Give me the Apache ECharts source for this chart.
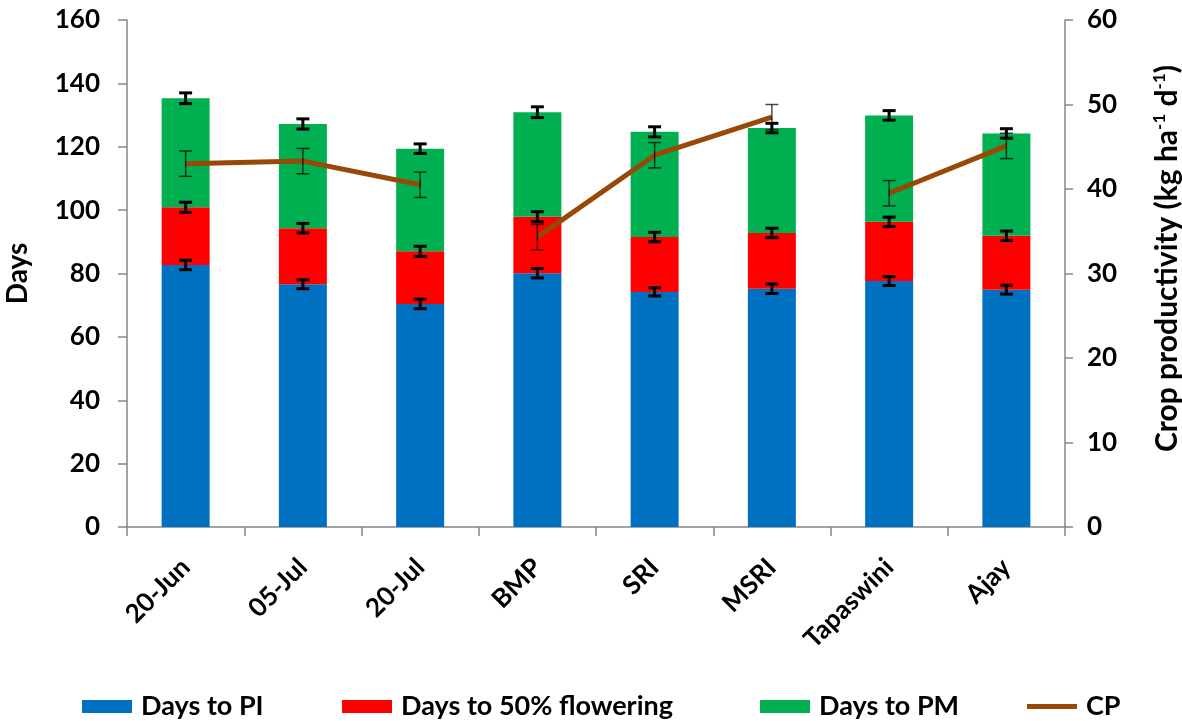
<!DOCTYPE html>
<html>
<head>
<meta charset="utf-8">
<script src="https://cdn.jsdelivr.net/npm/echarts@6/dist/echarts.min.js"></script>
<style>
  html, body { margin: 0; padding: 0; background: #fff; }
  #chart { width: 1182px; height: 721px; }
</style>
</head>
<body>
<div id="chart"></div>
<script>
// Sowing dates, establishment methods and varieties
const categories = ['20-Jun', '05-Jul', '20-Jul', 'BMP', 'SRI', 'MSRI', 'Tapaswini', 'Ajay'];
// treatment group of each category (the CP line is drawn separately per group)
const groups = ['date', 'date', 'date', 'method', 'method', 'method', 'variety', 'variety'];

// Days after sowing to each crop stage (cumulative)
const daysToPI = [82.7, 76.6, 70.4, 80.1, 74.2, 75.2, 77.6, 74.9];
const daysToFlowering = [100.9, 94.3, 87.0, 97.9, 91.5, 92.8, 96.3, 91.9];
const daysToPM = [135.3, 127.2, 119.4, 130.9, 124.7, 125.9, 129.9, 124.2];

// Standard errors of the stage dates
const errPI = [1.5, 1.4, 1.5, 1.5, 1.3, 1.5, 1.4, 1.4];
const errFlowering = [1.6, 1.5, 1.6, 1.6, 1.5, 1.5, 1.5, 1.5];
const errPM = [1.7, 1.6, 1.5, 1.7, 1.6, 1.5, 1.5, 1.5];

// Crop productivity, kg ha-1 d-1
const cropProductivity = [43.0, 43.3, 40.5, 34.3, 44.0, 48.5, 39.5, 45.1];
const errCP = [1.5, 1.5, 1.5, 1.5, 1.5, 1.5, 1.5, 1.5];

const leftTicks = { min: 0, max: 160, interval: 20 };
const rightTicks = { min: 0, max: 60, interval: 10 };

// stacked segment heights
const segPI = daysToPI.slice();
const segFlowering = daysToFlowering.map((v, i) => +(v - daysToPI[i]).toFixed(2));
const segPM = daysToPM.map((v, i) => +(v - daysToFlowering[i]).toFixed(2));

const errData = [];
[[daysToPI, errPI], [daysToFlowering, errFlowering], [daysToPM, errPM]].forEach(([vals, errs]) => {
  vals.forEach((v, i) => errData.push([i, v - errs[i], v + errs[i]]));
});
const cpErrData = cropProductivity.map((v, i) => [i, v - errCP[i], v + errCP[i]]);

const FONT = 'Lato, "Open Sans", sans-serif';
const axisGray = '#868686';
const CP_COLOR = '#984807';

function errorBar(capHalf, width, color) {
  return function (params, api) {
    const x = api.value(0);
    const lo = api.coord([x, api.value(1)]);
    const hi = api.coord([x, api.value(2)]);
    const style = { stroke: color, lineWidth: width, fill: null };
    return {
      type: 'group',
      children: [
        { type: 'line', shape: { x1: lo[0], y1: lo[1], x2: hi[0], y2: hi[1] }, style },
        { type: 'line', shape: { x1: lo[0] - capHalf, y1: lo[1], x2: lo[0] + capHalf, y2: lo[1] }, style },
        { type: 'line', shape: { x1: hi[0] - capHalf, y1: hi[1], x2: hi[0] + capHalf, y2: hi[1] }, style }
      ]
    };
  };
}

// one CP line per treatment group, broken between groups
const cpSeries = [...new Set(groups)].map(g => ({
  name: 'CP', type: 'line', yAxisIndex: 1, z: 6,
  symbol: 'none',
  connectNulls: false,
  lineStyle: { color: CP_COLOR, width: 5 },
  itemStyle: { color: CP_COLOR },
  data: cropProductivity.map((v, i) => (groups[i] === g ? v : null))
}));

const legendText = { fontFamily: FONT, fontSize: 27, fontWeight: 'bold', color: '#000', padding: [0, 0, 0, 4] };
function legendAt(left, item) {
  return {
    left, top: 688, itemWidth: 50, itemHeight: 13,
    textStyle: legendText, data: [item]
  };
}

const chart = echarts.init(document.getElementById('chart'), null, { renderer: 'canvas' });
chart.setOption({
  animation: false,
  backgroundColor: '#fff',
  textStyle: { fontFamily: FONT },
  grid: { left: 127, right: 117, top: 20, bottom: 194, containLabel: false, outerBoundsMode: 'none' },
  legend: [
    legendAt(77, { name: 'Days to PI', icon: 'rect' }),
    legendAt(337, { name: 'Days to 50% flowering', icon: 'rect' }),
    legendAt(755, { name: 'Days to PM', icon: 'rect' }),
    legendAt(1022, { name: 'CP', icon: 'path://M0,0 M0,13 M0,4 L50,4 L50,9 L0,9 Z' })
  ],
  xAxis: {
    type: 'category',
    data: categories,
    axisLine: { lineStyle: { color: axisGray, width: 1.5 } },
    axisTick: { show: true, length: 9, lineStyle: { color: axisGray, width: 1.5 } },
    axisLabel: {
      rotate: 45,
      margin: 36,
      interval: 0,
      color: '#000',
      fontFamily: FONT,
      fontSize: 26,
      fontWeight: 'bold'
    }
  },
  yAxis: [
    {
      type: 'value',
      min: leftTicks.min, max: leftTicks.max, interval: leftTicks.interval,
      name: 'Days',
      nameLocation: 'middle',
      nameGap: 95,
      nameRotate: 90,
      nameTextStyle: { fontFamily: FONT, fontSize: 28, fontWeight: 'bold', color: '#000' },
      axisLine: { show: true, lineStyle: { color: axisGray, width: 1.5 } },
      axisTick: { show: true, length: 9, lineStyle: { color: axisGray, width: 1.5 } },
      splitLine: { show: false },
      axisLabel: { margin: 27, color: '#000', fontFamily: FONT, fontSize: 26, fontWeight: 'bold' }
    },
    {
      type: 'value',
      position: 'right',
      min: rightTicks.min, max: rightTicks.max, interval: rightTicks.interval,
      name: '{n|Crop productivity (kg ha}{s|-1}{n| d}{s|-1}{n|)}',
      nameLocation: 'middle',
      nameGap: 86,
      nameRotate: 90,
      nameTextStyle: {
        padding: [0, 0, 0, 30],
        rich: {
          n: { fontFamily: FONT, fontSize: 30, fontWeight: 'bold', color: '#000', lineHeight: 32 },
          s: { fontFamily: FONT, fontSize: 17, fontWeight: 'bold', color: '#000', lineHeight: 16, verticalAlign: 'top' }
        }
      },
      axisLine: { show: true, lineStyle: { color: axisGray, width: 1.5 } },
      axisTick: { show: true, length: 8, lineStyle: { color: axisGray, width: 1.5 } },
      splitLine: { show: false },
      axisLabel: { margin: 22, color: '#000', fontFamily: FONT, fontSize: 26, fontWeight: 'bold' }
    }
  ],
  series: [
    {
      name: 'Days to PI', type: 'bar', stack: 'days', barWidth: 48,
      itemStyle: { color: '#0070C0' }, data: segPI
    },
    {
      name: 'Days to 50% flowering', type: 'bar', stack: 'days', barWidth: 48,
      itemStyle: { color: '#FF0000' }, data: segFlowering
    },
    {
      name: 'Days to PM', type: 'bar', stack: 'days', barWidth: 48,
      itemStyle: { color: '#00B050' }, data: segPM
    },
    {
      name: 'stage error', type: 'custom', yAxisIndex: 0, z: 5,
      renderItem: errorBar(6.5, 3, '#000'),
      encode: { x: 0, y: [1, 2] },
      data: errData
    },
    ...cpSeries,
    {
      name: 'CP error', type: 'custom', yAxisIndex: 1, z: 7,
      renderItem: errorBar(6.5, 1.5, 'rgba(0,0,0,0.7)'),
      encode: { x: 0, y: [1, 2] },
      data: cpErrData
    }
  ]
});
</script>
</body>
</html>
